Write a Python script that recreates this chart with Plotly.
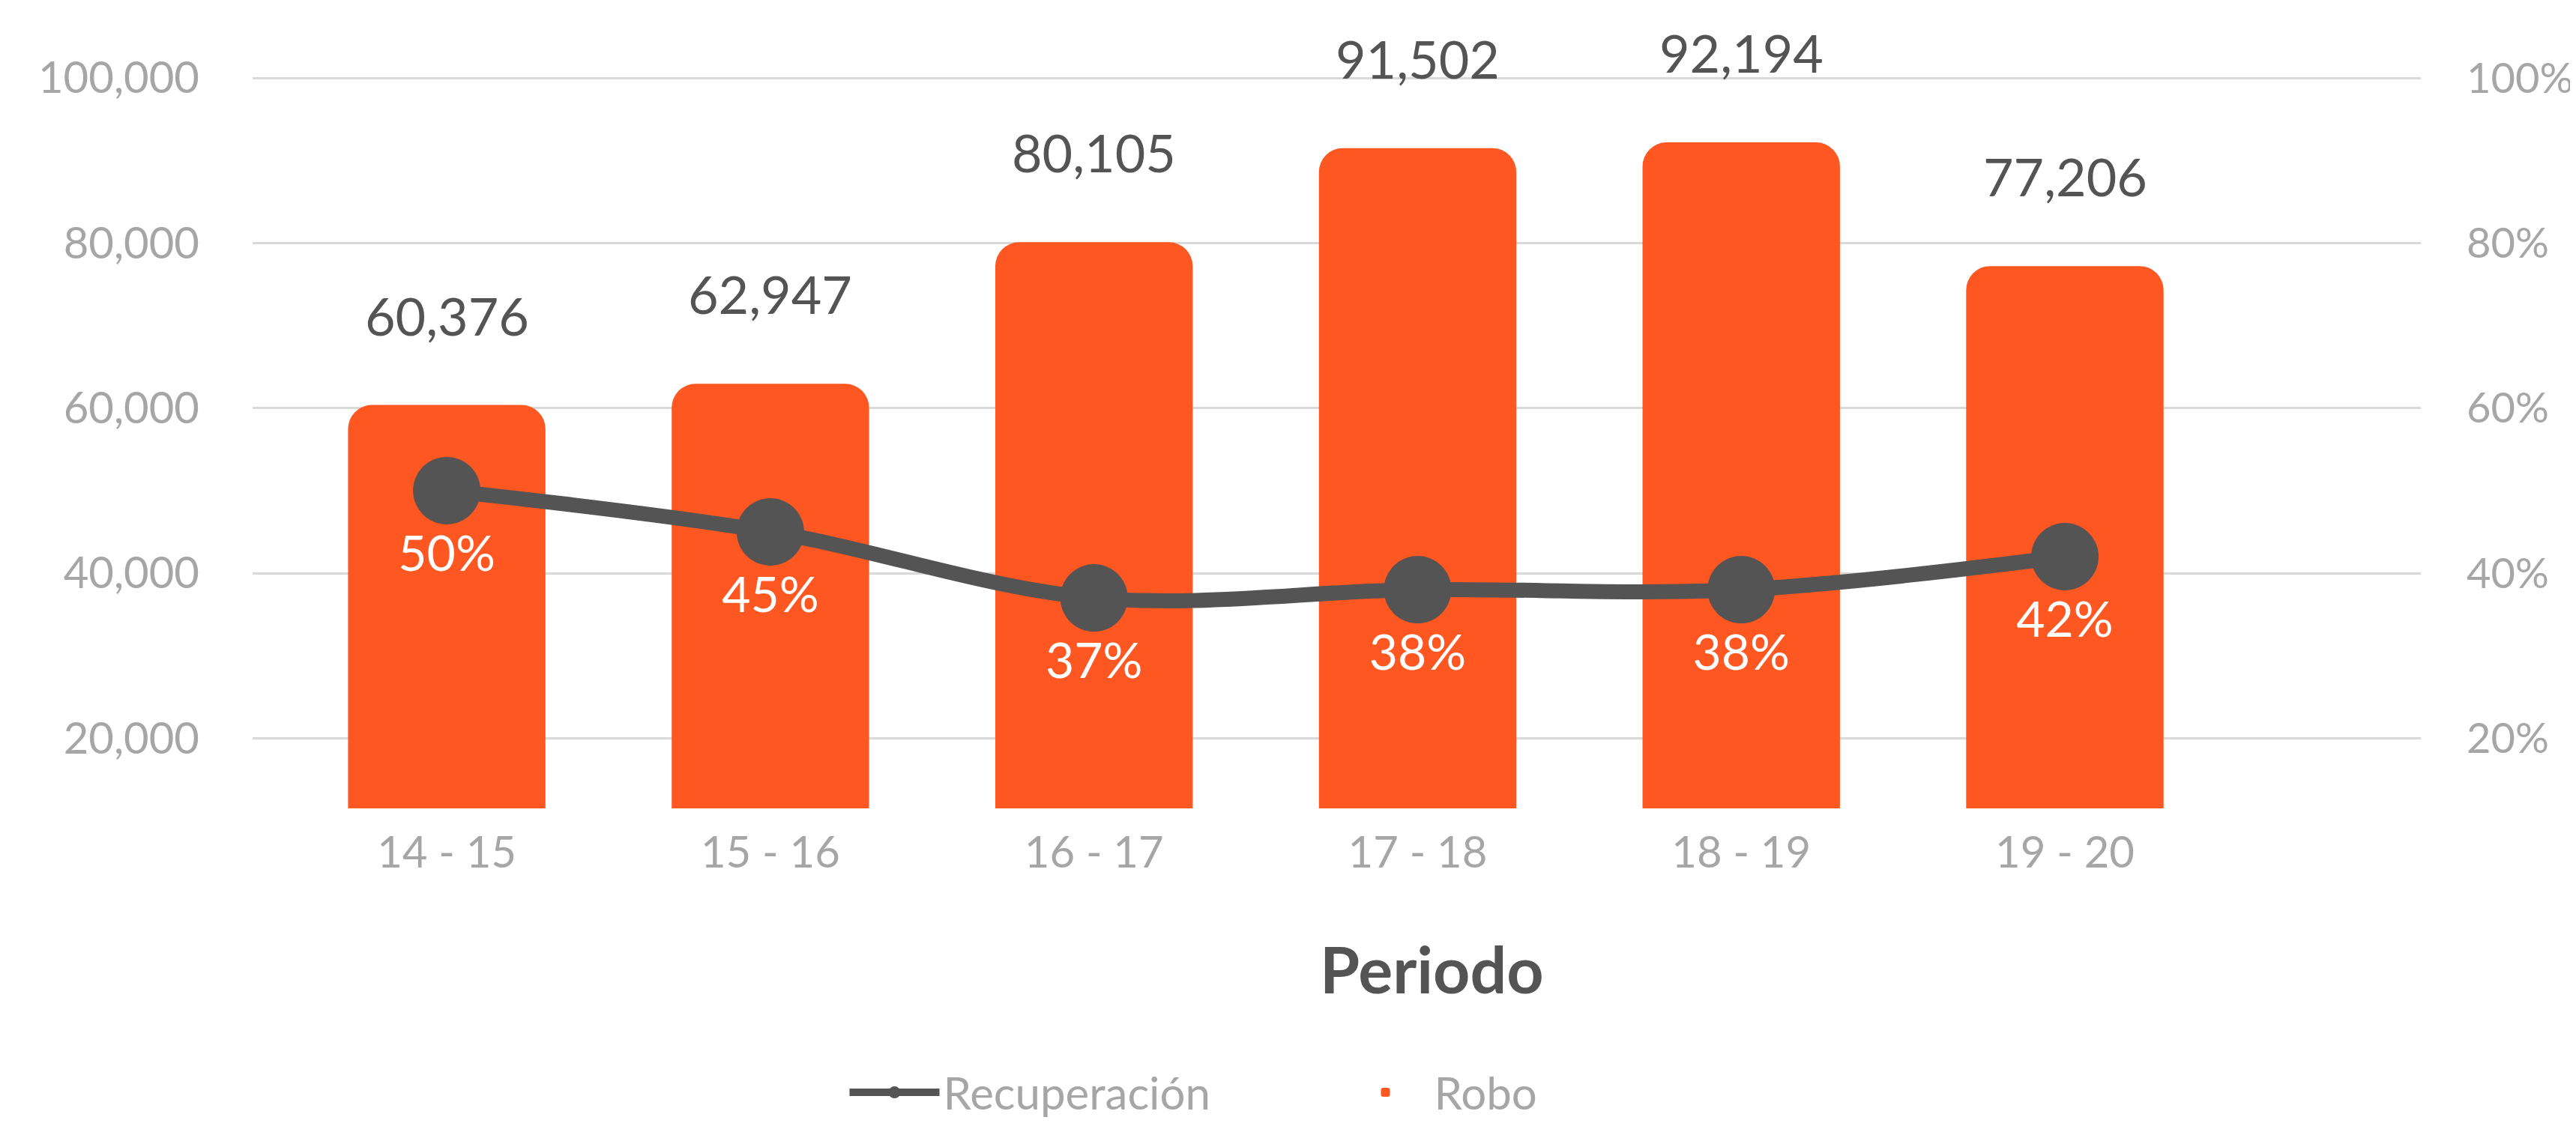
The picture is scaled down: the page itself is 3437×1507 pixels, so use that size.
import plotly.graph_objects as go

# Datos
periodos = ["14 - 15", "15 - 16", "16 - 17", "17 - 18", "18 - 19", "19 - 20"]
robo = [60376, 62947, 80105, 91502, 92194, 77206]
recuperacion = [0.50, 0.45, 0.37, 0.38, 0.38, 0.42]

naranja = "#FE5722"
gris_linea = "#545454"
gris_texto = "#A6A6A6"
fuente = "Lato"

y_min, y_max = 11500, 104000

fig = go.Figure()

fig.add_trace(go.Bar(
    x=periodos, y=robo, name="Robo",
    marker=dict(color=naranja, cornerradius=32, line=dict(width=0)),
    width=0.61, yaxis="y", legendrank=2,
    hoverinfo="skip",
))

fig.add_trace(go.Scatter(
    x=periodos, y=recuperacion, name="Recuperación",
    mode="lines+markers+text",
    line=dict(color=gris_linea, width=20, shape="spline"),
    marker=dict(size=90, color=gris_linea),
    text=[f"{v:.0%}" for v in recuperacion],
    textposition="bottom center",
    textfont=dict(family=fuente, size=66, color="white"),
    yaxis="y2", legendrank=1,
    hoverinfo="skip",
))

# etiquetas de valor encima de las barras
for p, v in zip(periodos, robo):
    fig.add_annotation(
        x=p, y=v, yref="y", text=f"{v:,}", showarrow=False,
        yshift=120, font=dict(family=fuente, size=70, color="#545454"),
    )

# titulo del eje x (desplazado como en el original)
fig.add_annotation(
    x=0.544, xref="paper", y=-0.21, yref="paper", yanchor="middle",
    text="<b>Periodo</b>", showarrow=False,
    font=dict(family=fuente, size=86, color="#545454"),
)

fig.update_layout(
    width=3437, height=1507,
    margin=dict(l=329, r=215, t=52, b=430),
    plot_bgcolor="white", paper_bgcolor="white",
    font=dict(family=fuente, color=gris_texto, size=58),
    xaxis=dict(
        type="category", range=[-0.6, 6.1],
        showgrid=False, showline=False, zeroline=False, ticks="",
        tickfont=dict(size=58, color=gris_texto),
        ticklabelstandoff=20,
    ),
    yaxis=dict(
        range=[y_min, y_max], tick0=20000, dtick=20000,
        tickformat=",d", showgrid=True, gridcolor="#D9D9D9", gridwidth=3,
        zeroline=False, showline=False, ticks="",
        tickfont=dict(size=58, color=gris_texto),
        ticklabelstandoff=70,
    ),
    yaxis2=dict(
        overlaying="y", side="right",
        range=[y_min / 100000, y_max / 100000], tick0=0.2, dtick=0.2,
        tickformat=".0%", showgrid=False, zeroline=False, showline=False,
        ticks="", tickfont=dict(size=56, color=gris_texto),
        ticklabelstandoff=60,
    ),
    showlegend=True,
    legend=dict(
        orientation="h", x=0.5, xanchor="center", y=-0.372, yanchor="middle",
        font=dict(size=60, color=gris_texto), itemwidth=120,
        entrywidth=520, traceorder="normal",
    ),
)

fig.write_html("out.html")
